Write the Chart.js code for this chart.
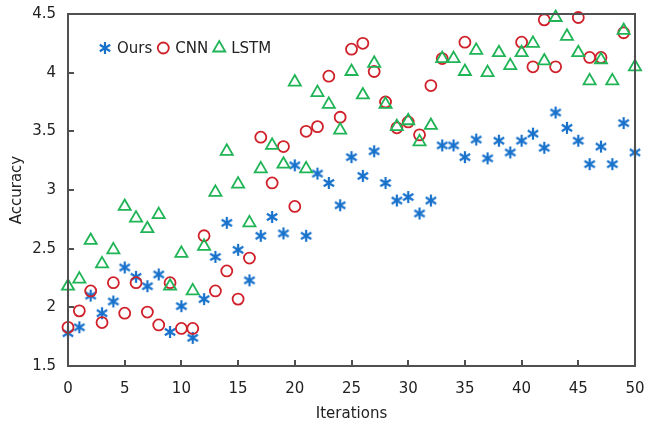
<!DOCTYPE html>
<html>
<head>
<meta charset="utf-8">
<script src="https://cdn.jsdelivr.net/npm/chart.js@4/dist/chart.umd.min.js"></script>
<style>
  html, body { margin: 0; padding: 0; background: #fff; }
  canvas { display: block; }
</style>
</head>
<body>
<canvas id="chart" width="648" height="424"></canvas>
<script>
// data
const iterations = Array.from({ length: 51 }, (_, i) => i);
const seriesNames = ['Ours', 'CNN', 'LSTM'];
const oursAcc = [1.78, 1.83, 2.10, 1.95, 2.05, 2.34, 2.26, 2.18, 2.28, 1.79,
  2.01, 1.74, 2.07, 2.43, 2.72, 2.49, 2.23, 2.61, 2.77, 2.63,
  3.21, 2.61, 3.14, 3.06, 2.87, 3.28, 3.12, 3.33, 3.06, 2.91,
  2.94, 2.80, 2.91, 3.38, 3.38, 3.28, 3.43, 3.27, 3.42, 3.32,
  3.42, 3.48, 3.36, 3.66, 3.53, 3.42, 3.22, 3.37, 3.22, 3.57, 3.32];
// null = point falls outside the plotted range
const cnnAcc = [1.83, 1.97, 2.14, 1.87, 2.21, 1.95, 2.21, 1.96, 1.85, 2.21,
  1.82, 1.82, 2.61, 2.14, 2.31, 2.07, 2.42, 3.45, 3.06, 3.37,
  2.86, 3.50, 3.54, 3.97, 3.62, 4.20, 4.25, 4.01, 3.75, 3.53,
  3.58, 3.47, 3.89, 4.12, null, 4.26, null, null, null, null,
  4.26, 4.05, 4.45, 4.05, null, 4.47, 4.13, 4.13, null, 4.34, null];
const lstmAcc = [2.18, 2.24, 2.57, 2.37, 2.49, 2.86, 2.76, 2.67, 2.79, 2.18,
  2.46, 2.14, 2.52, 2.98, 3.33, 3.05, 2.72, 3.18, 3.38, 3.22,
  3.92, 3.18, 3.83, 3.73, 3.51, 4.01, 3.81, 4.08, 3.73, 3.54,
  3.59, 3.41, 3.55, 4.12, 4.12, 4.01, 4.19, 4.00, 4.17, 4.06,
  4.17, 4.25, 4.10, 4.47, 4.31, 4.17, 3.93, 4.11, 3.93, 4.36, 4.05];
const xTicks = [0, 5, 10, 15, 20, 25, 30, 35, 40, 45, 50];
const xTickLabels = ['0', '5', '10', '15', '20', '25', '30', '35', '40', '45', '50'];
const yTicks = [1.5, 2, 2.5, 3, 3.5, 4, 4.5];
const yTickLabels = ['1.5', '2', '2.5', '3', '3.5', '4', '4.5'];

const BLUE = '#1872cc';
const RED = '#d0202a';
const GREEN = '#1fb456';
const AXIS_COLOR = '#505050';
const FONT = 'DejaVu Sans, Verdana, sans-serif';

// asterisk marker: X plus a vertical bar
function makeAsterisk(color) {
  const c = document.createElement('canvas');
  c.width = 14; c.height = 14;
  const g = c.getContext('2d');
  g.strokeStyle = color;
  g.lineWidth = 2.2;
  g.beginPath();
  g.moveTo(7, 1); g.lineTo(7, 13);
  g.moveTo(1.8, 3.8); g.lineTo(12.2, 10.2);
  g.moveTo(12.2, 3.8); g.lineTo(1.8, 10.2);
  g.stroke();
  return c;
}
const asterisk = makeAsterisk(BLUE);

function toPoints(values) {
  return iterations.map((x, i) => ({ x: x, y: values[i] }));
}

// box frame, inside ticks and the in-plot legend
const framePlugin = {
  id: 'frame',
  afterDraw(chart) {
    const ctx = chart.ctx;
    const a = chart.chartArea;
    const L = Math.round(a.left), R = Math.round(a.right);
    const T = Math.round(a.top), B = Math.round(a.bottom);
    ctx.save();
    ctx.fillStyle = AXIS_COLOR;
    ctx.fillRect(L - 1, T - 1, R - L + 2, 2);
    ctx.fillRect(L - 1, B - 1, R - L + 2, 2);
    ctx.fillRect(L - 1, T - 1, 2, B - T + 2);
    ctx.fillRect(R - 1, T - 1, 2, B - T + 2);
    xTicks.forEach(v => {
      const px = Math.round(chart.scales.x.getPixelForValue(v));
      ctx.fillRect(px - 1, B - 6, 2, 6);
    });
    yTicks.forEach(v => {
      const py = Math.round(chart.scales.y.getPixelForValue(v));
      ctx.fillRect(L, py - 1, 6, 2);
    });
    ctx.restore();

    // legend
    ctx.save();
    let x = a.left + 37;
    const y = a.top + 34;
    ctx.font = '15px ' + FONT;
    ctx.textBaseline = 'middle';
    chart.data.datasets.forEach(ds => {
      ctx.save();
      ctx.strokeStyle = ds.borderColor;
      ctx.fillStyle = 'rgba(0,0,0,0)';
      ctx.lineWidth = ds.borderWidth;
      Chart.helpers.drawPoint(ctx, { pointStyle: ds.pointStyle, radius: ds.pointRadius, rotation: 0, borderWidth: ds.borderWidth }, x, y);
      ctx.restore();
      ctx.fillStyle = '#222';
      ctx.fillText(ds.label, x + 12, y + 1);
      x += 12 + ctx.measureText(ds.label).width + 11;
    });
    ctx.restore();
  }
};

new Chart(document.getElementById('chart'), {
  type: 'scatter',
  data: {
    datasets: [
      { label: seriesNames[0], data: toPoints(oursAcc), pointStyle: asterisk, pointRadius: 6, borderColor: BLUE, backgroundColor: BLUE, borderWidth: 1.8, order: 2, clip: false },
      { label: seriesNames[1], data: toPoints(cnnAcc), pointStyle: 'circle', pointRadius: 5.5, borderColor: RED, backgroundColor: 'rgba(0,0,0,0)', borderWidth: 1.8, order: 1, clip: false },
      { label: seriesNames[2], data: toPoints(lstmAcc), pointStyle: 'triangle', pointRadius: 7, borderColor: GREEN, backgroundColor: 'rgba(0,0,0,0)', borderWidth: 1.8, order: 0, clip: false }
    ]
  },
  options: {
    responsive: false,
    animation: false,
    devicePixelRatio: 1,
    layout: { padding: { top: 14, right: 13, left: 0, bottom: 0 } },
    plugins: { legend: { display: false }, tooltip: { enabled: false } },
    scales: {
      x: {
        type: 'linear', min: 0, max: 50,
        afterBuildTicks: s => { s.ticks = xTicks.map(v => ({ value: v })); },
        afterFit: s => { s.height = 58; s.paddingLeft = 0; s.paddingRight = 0; },
        ticks: { callback: (v, i) => xTickLabels[i], color: '#222', font: { family: FONT, size: 15 }, padding: 14 },
        grid: { display: false, drawTicks: false },
        border: { display: false },
        title: { display: true, text: 'Iterations', color: '#222', font: { family: FONT, size: 15 }, padding: { top: 0, bottom: 1 } }
      },
      y: {
        type: 'linear', min: 1.5, max: 4.5,
        afterBuildTicks: s => { s.ticks = yTicks.map(v => ({ value: v })); },
        afterFit: s => { s.width = 68; s.paddingTop = 0; s.paddingBottom = 0; },
        ticks: { callback: (v, i) => yTickLabels[i], color: '#222', font: { family: FONT, size: 15 }, padding: 12 },
        grid: { display: false, drawTicks: false },
        border: { display: false },
        title: { display: true, text: 'Accuracy', color: '#222', font: { family: FONT, size: 15 }, padding: { top: 8, bottom: 0 } }
      }
    }
  },
  plugins: [framePlugin]
});
</script>
</body>
</html>
